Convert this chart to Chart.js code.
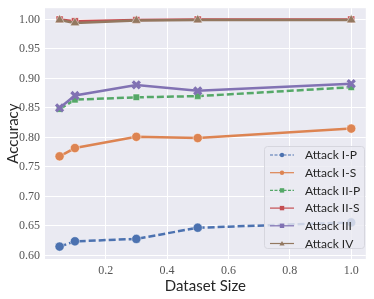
<!DOCTYPE html>
<html>
<head>
<meta charset="utf-8">
<script src="https://cdn.jsdelivr.net/npm/chart.js@4.4.1/dist/chart.umd.min.js"></script>
<style>
  html, body { margin: 0; padding: 0; background: #fff; }
  #wrap { position: relative; width: 374px; height: 299px; }
</style>
</head>
<body>
<div id="wrap"><canvas id="chart" width="374" height="299"></canvas></div>
<script>
  // ─── Data ────────────────────────────────────────────
  const datasetSizes = [0.05, 0.1, 0.3, 0.5, 1.0];
  const attackIP  = [0.615, 0.624, 0.628, 0.647, 0.656];
  const attackIS  = [0.768, 0.782, 0.801, 0.799, 0.815];
  const attackIIP = [0.848, 0.864, 0.868, 0.870, 0.885];
  const attackIIS = [1.000, 0.997, 0.999, 1.000, 1.000];
  const attackIII = [0.850, 0.871, 0.889, 0.879, 0.891];
  const attackIV  = [0.999, 0.994, 0.998, 0.999, 0.999];
  const xTicks = [0.2, 0.4, 0.6, 0.8, 1.0];
  const yTicks = [0.60, 0.65, 0.70, 0.75, 0.80, 0.85, 0.90, 0.95, 1.00];

  // ─── Series styles ───────────────────────────────────
  const series = [
    { label: 'Attack I-P',  data: attackIP,  color: '#4C72B0', dash: [7, 3], marker: 'circle', r: 4.6 },
    { label: 'Attack I-S',  data: attackIS,  color: '#DD8452', dash: [],     marker: 'circle', r: 4.6 },
    { label: 'Attack II-P', data: attackIIP, color: '#55A868', dash: [7, 3], marker: 'rect',   r: 4.6 },
    { label: 'Attack II-S', data: attackIIS, color: '#C44E52', dash: [],     marker: 'rect',   r: 5 },
    { label: 'Attack III',  data: attackIII, color: '#8172B3', dash: [],     marker: 'crossRot', r: 5 },
    { label: 'Attack IV',   data: attackIV,  color: '#937860', dash: [],     marker: 'triangle', r: 5.5 }
  ];

  const datasets = series.map((s, i) => ({
    label: s.label,
    data: s.data.map((y, j) => ({ x: datasetSizes[j], y })),
    order: series.length - i,
    showLine: true,
    borderColor: s.color,
    backgroundColor: s.color,
    borderWidth: 2.5,
    borderDash: s.dash,
    pointStyle: s.marker,
    pointRadius: s.r,
    pointBackgroundColor: s.color,
    pointBorderColor: s.marker === 'crossRot' ? s.color : 'rgba(255,255,255,0.6)',
    pointBorderWidth: s.marker === 'crossRot' ? 3.2 : 0.8
  }));

  // ─── Plugins ─────────────────────────────────────────
  const bgPlugin = {
    id: 'bg',
    beforeDraw(chart) {
      const { ctx, chartArea: a } = chart;
      ctx.save();
      ctx.fillStyle = '#EAEAF2';
      ctx.fillRect(a.left, a.top, a.right - a.left, a.bottom - a.top);
      ctx.restore();
    }
  };

  // matplotlib-style legend box at the lower right
  const legendPlugin = {
    id: 'boxLegend',
    afterDraw(chart) {
      const ctx = chart.ctx;
      const x0 = 264, y0 = 146, w = 100, h = 102, rowH = 17.7;
      ctx.save();
      ctx.fillStyle = 'rgba(234,234,242,0.82)';
      ctx.strokeStyle = '#d6d6de';
      ctx.lineWidth = 1;
      ctx.beginPath();
      ctx.roundRect(x0 + 0.5, y0 + 0.5, w, h, 3);
      ctx.fill();
      ctx.stroke();
      ctx.font = '12px Lato, sans-serif';
      ctx.textBaseline = 'middle';
      series.forEach((s, i) => {
        const y = y0 + 9 + i * rowH;
        ctx.strokeStyle = s.color;
        ctx.lineWidth = 1.2;
        ctx.setLineDash(s.dash.length ? [3, 1.5] : []);
        ctx.beginPath();
        ctx.moveTo(270, y);
        ctx.lineTo(294, y);
        ctx.stroke();
        ctx.setLineDash([]);
        ctx.fillStyle = s.color;
        if (s.marker === 'circle') {
          ctx.beginPath(); ctx.arc(282, y, 2.2, 0, Math.PI * 2); ctx.fill();
        } else if (s.marker === 'triangle') {
          ctx.beginPath(); ctx.moveTo(282, y - 2.6); ctx.lineTo(284.6, y + 2); ctx.lineTo(279.4, y + 2); ctx.closePath(); ctx.fill();
        } else {
          ctx.fillRect(279.8, y - 2.2, 4.4, 4.4);
        }
        ctx.fillStyle = '#262626';
        ctx.fillText(s.label, 305, y + 0.5);
      });
      ctx.restore();
    }
  };

  // ─── Chart ───────────────────────────────────────────
  const tickFont = { family: '"Liberation Serif", "DejaVu Serif", serif', size: 12 };
  const titleFont = { family: 'Lato, sans-serif', size: 15 };

  new Chart(document.getElementById('chart'), {
    type: 'scatter',
    data: { datasets },
    plugins: [bgPlugin, legendPlugin],
    options: {
      responsive: false,
      animation: false,
      layout: { padding: { top: 6, right: 4, left: 0, bottom: 0 } },
      plugins: { legend: { display: false }, tooltip: { enabled: false } },
      scales: {
        x: {
          type: 'linear',
          min: 0.0025,
          max: 1.0475,
          afterBuildTicks: (scale) => { scale.ticks = xTicks.map(v => ({ value: v })); },
          afterFit: (scale) => { scale.height = 40; scale.paddingLeft = 0; scale.paddingRight = 0; },
          grid: { color: '#ffffff', lineWidth: 1, drawTicks: false },
          border: { display: false },
          ticks: {
            color: '#555', font: tickFont, padding: 5,
            callback: (v) => v.toFixed(1)
          },
          title: { display: true, text: 'Dataset Size', color: '#262626', font: titleFont, padding: { top: 0 } }
        },
        y: {
          min: 0.594,
          max: 1.019,
          afterBuildTicks: (scale) => { scale.ticks = yTicks.map(v => ({ value: v })); },
          afterFit: (scale) => { scale.width = 45; scale.paddingTop = 0; scale.paddingBottom = 0; },
          grid: { color: '#ffffff', lineWidth: 1, drawTicks: false },
          border: { display: false },
          ticks: {
            color: '#555', font: tickFont, padding: 5,
            callback: (v) => v.toFixed(2)
          },
          title: { display: true, text: 'Accuracy', color: '#262626', font: titleFont, padding: { bottom: 0 } }
        }
      }
    }
  });
</script>
</body>
</html>
